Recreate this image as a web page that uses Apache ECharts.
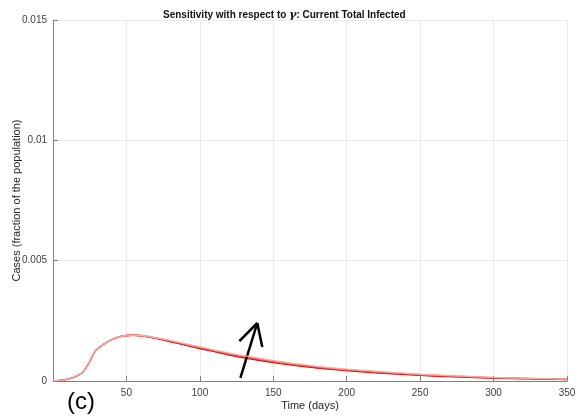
<!DOCTYPE html>
<html><head><meta charset="utf-8">
<script src="https://cdn.jsdelivr.net/npm/echarts@6/dist/echarts.min.js"></script>
<style>html,body{margin:0;padding:0;background:#fff}#c{width:578px;height:419px}</style>
</head><body><div id="c"></div>
<script>
const days = [0,5,10,15,20,25,28,30,35,40,45,50,55,60,70,80,90,100,120,140,160,180,200,225,250,275,300,325,350];
const rise = [0.00001,0.00003,0.00008,0.00017,0.00035,0.0008,0.00118,0.00132,0.00155,0.00172,0.00183,0.00189,0.0019];
const curveA = rise.concat([0.00188,0.00177,0.00163,0.00149,0.00135,0.00108,0.00086,0.00068,0.00054,0.00043,0.00032,0.00023,0.00017,0.00012,0.00009,0.00006]);
const curveB = rise.concat([0.00188,0.00178,0.00165,0.00151,0.00137,0.0011,0.00089,0.0007,0.00056,0.00045,0.00034,0.00025,0.00018,0.00013,0.0001,0.00007]);
const curveC = rise.concat([0.00189,0.00179,0.00167,0.00153,0.0014,0.00113,0.00092,0.00073,0.00059,0.00047,0.00036,0.00027,0.0002,0.00014,0.00011,0.00008]);
const curveD = rise.concat([0.00189,0.0018,0.00168,0.00155,0.00142,0.00116,0.00095,0.00076,0.00061,0.00049,0.00038,0.00028,0.00021,0.00015,0.00011,0.00008]);
const curves = [curveA, curveB, curveC, curveD];
const colors = ['#d90000','#e62a1e','#f06a5e','#f7a9a2'];
const yTicks = [0, 0.005, 0.01, 0.015];
const xTicks = [50,100,150,200,250,300,350];
// arrow (data coordinates)
const arrowTail = [127.6, 0.000125], arrowTip = [139.1, 0.00241];
const headL = [126.9, 0.00166], headR = [142.5, 0.00141];

const chart = echarts.init(document.getElementById('c'));
const font = 'Helvetica, Arial, "Liberation Sans", sans-serif';
const series = curves.map((c,i)=>({
  type:'line', data: days.map((d,j)=>[d,c[j]]), showSymbol:false, smooth:0.3,
  lineStyle:{color:colors[i], width:1.3}, z: 2+i, animation:false
}));
series.push({
  type:'line', data:[], animation:false,
  markLine:{silent:true, symbol:['none','none'], animation:false,
    lineStyle:{color:'#000', width:2.5, type:'solid'},
    label:{show:false},
    data:[
      [{coord:arrowTail},{coord:arrowTip}],
      [{coord:headL},{coord:arrowTip}],
      [{coord:headR},{coord:arrowTip}]
    ]}
});
chart.setOption({
  backgroundColor:'#fff',
  animation:false,
  textStyle:{fontFamily:font},
  title:{text:'{b|Sensitivity with respect to }{i|γ}{b|: Current Total Infected}', left:158, top:5,
    textStyle:{rich:{b:{fontSize:10,fontWeight:'bold',color:'#111',fontFamily:font},
                     i:{fontSize:11,fontStyle:'italic',color:'#111',fontFamily:'"DejaVu Serif", serif'}}}},
  grid:{left:53, right:11, top:20, bottom:38, containLabel:false, outerBoundsMode:'none'},
  xAxis:{type:'value', min:0, max:350, interval:50,
    name:'Time (days)', nameLocation:'middle', nameGap:19, nameMoveOverlap:false,
    nameTextStyle:{fontSize:11,color:'#262626'},
    axisLine:{lineStyle:{color:'#808080'}},
    axisTick:{inside:true,length:5,lineStyle:{color:'#808080'}},
    axisLabel:{fontSize:10,color:'#404040',margin:7,formatter:v=>xTicks.includes(v)?String(v):''},
    splitLine:{show:true,lineStyle:{color:'#ebebeb'}}},
  yAxis:{type:'value', min:0, max:0.015, interval:0.005,
    name:'Cases (fraction of the population)', nameLocation:'middle', nameGap:31, nameMoveOverlap:false,
    nameTextStyle:{fontSize:11,color:'#262626'},
    axisLine:{show:true,lineStyle:{color:'#808080'}},
    axisTick:{show:true,inside:true,length:5,lineStyle:{color:'#808080'}},
    axisLabel:{fontSize:10,color:'#404040',margin:6,formatter:v=>{const t=yTicks.find(y=>Math.abs(y-v)<1e-9);return t===undefined?'':String(t);}},
    splitLine:{show:true,lineStyle:{color:'#ebebeb'}}},
  graphic:[{type:'text', left:67, top:390, style:{text:'(c)', fontSize:24, fill:'#000', fontFamily:font}}],
  series: series
});
</script></body></html>
